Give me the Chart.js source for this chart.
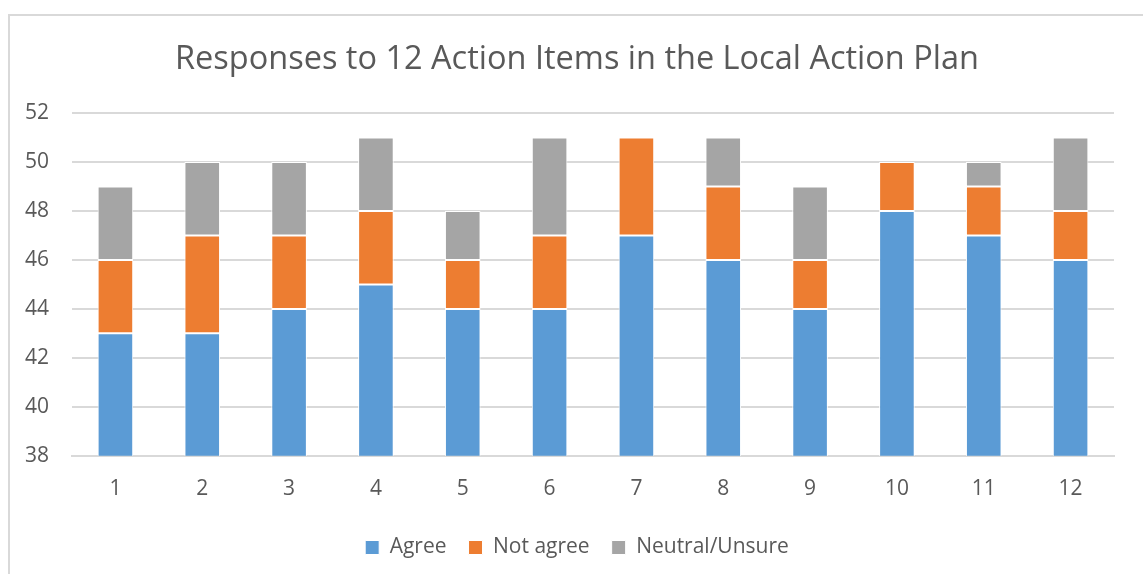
<!DOCTYPE html>
<html>
<head>
<meta charset="utf-8">
<script src="https://cdn.jsdelivr.net/npm/chart.js@4"></script>
<style>
  body { margin: 0; background: #fff; overflow: hidden; }
  #frame { position: absolute; left: 8px; top: 14px; width: 1200px; height: 600px; border: 2px solid #d9d9d9; box-sizing: border-box; }
  #wrap { position: absolute; left: 0; top: 0; width: 1143px; height: 574px; }
</style>
</head>
<body>
<div id="frame"></div>
<div id="wrap"><canvas id="myChart" width="1143" height="574"></canvas></div>
<script>
const items = ['1', '2', '3', '4', '5', '6', '7', '8', '9', '10', '11', '12'];
const agree = [43, 43, 44, 45, 44, 44, 47, 46, 44, 48, 47, 46];
const notAgree = [3, 4, 3, 3, 2, 3, 4, 3, 2, 2, 2, 2];
const neutral = [3, 3, 3, 3, 2, 4, 0, 2, 3, 0, 1, 3];
const yTicks = [38, 40, 42, 44, 46, 48, 50, 52];

const font = "'Open Sans', 'Noto Sans', sans-serif";

window.onload = _ => {
  const ctx = document.getElementById('myChart').getContext('2d');

  const bar = (label, data, color) => ({
    label,
    data,
    backgroundColor: color,
    borderColor: '#ffffff',
    borderWidth: 1,
    borderSkipped: false,
    categoryPercentage: 1,
    barPercentage: 0.41
  });

  new Chart(ctx, {
    type: 'bar',
    data: {
      labels: items,
      datasets: [
        bar('Agree', agree, '#5b9bd5'),
        bar('Not agree', notAgree, '#ed7d31'),
        bar('Neutral/Unsure', neutral, '#a5a5a5')
      ]
    },
    options: {
      responsive: false,
      animation: false,
      layout: { padding: { left: 40, right: 29, top: 0, bottom: 6 } },
      plugins: {
        title: {
          display: true,
          text: 'Responses to 12 Action Items in the Local Action Plan',
          color: '#595959',
          font: { family: font, size: 32.5, weight: 'normal' },
          padding: { top: 40, bottom: 34 }
        },
        legend: {
          position: 'bottom',
          labels: {
            color: '#595959',
            font: { family: font, size: 21 },
            boxWidth: 14,
            boxHeight: 14,
            padding: 22
          }
        },
        tooltip: { enabled: false }
      },
      scales: {
        x: {
          stacked: true,
          grid: { display: false },
          border: { color: '#d9d9d9', width: 2 },
          ticks: { color: '#595959', font: { family: font, size: 21 }, padding: 13 }
        },
        y: {
          stacked: true,
          min: 38,
          max: 52,
          afterBuildTicks: axis => { axis.ticks = yTicks.map(v => ({ value: v })); },
          afterFit: axis => { axis.width = 32; },
          grid: { color: '#d9d9d9', lineWidth: 2, drawTicks: false },
          border: { display: false },
          ticks: { color: '#595959', font: { family: font, size: 21 }, mirror: true, padding: -47 }
        }
      }
    }
  });
};
</script>
</body>
</html>
